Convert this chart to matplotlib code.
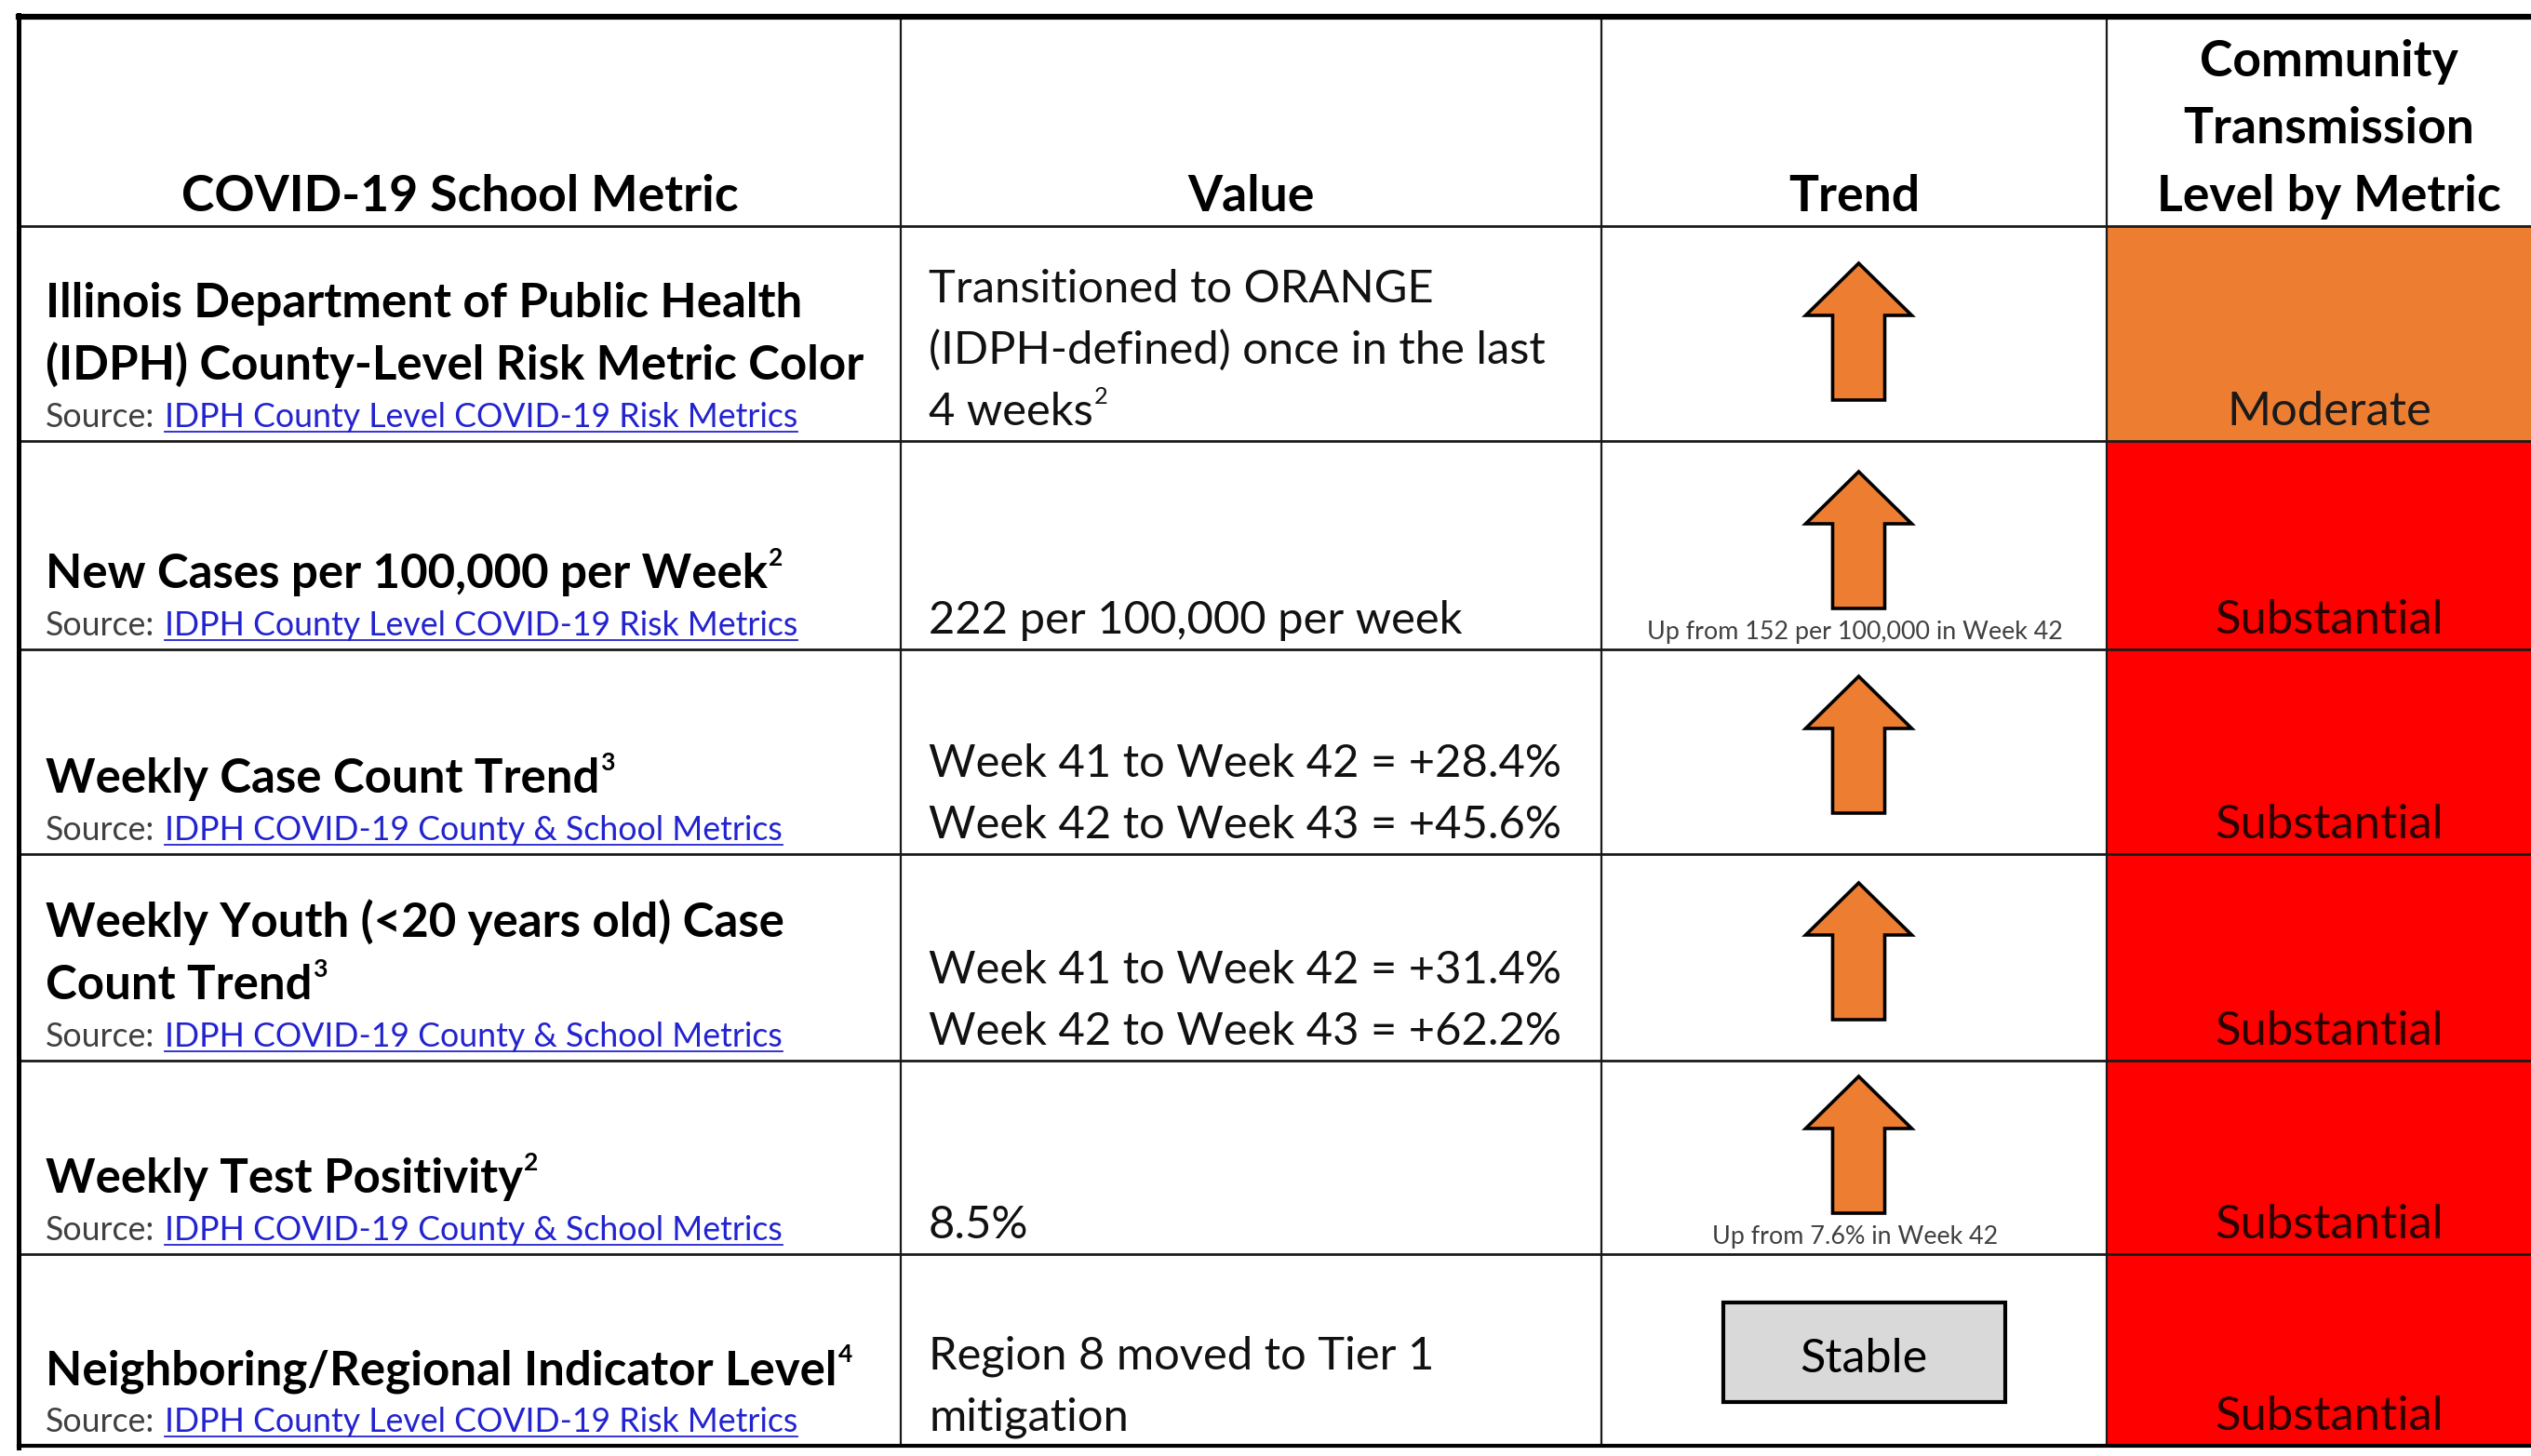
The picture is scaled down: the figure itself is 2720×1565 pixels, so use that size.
import matplotlib
matplotlib.use("Agg")
import matplotlib.pyplot as plt
from matplotlib.patches import Rectangle, Polygon

plt.rcParams['font.family'] = ['Lato', 'DejaVu Sans']

# ---- table content ----
headers = ["COVID-19 School Metric", "Value", "Trend",
           ["Community", "Transmission", "Level by Metric"]]

metric_lines = [
    ["Illinois Department of Public Health", "(IDPH) County-Level Risk Metric Color"],
    ["New Cases per 100,000 per Week"],
    ["Weekly Case Count Trend"],
    ["Weekly Youth (<20 years old) Case", "Count Trend"],
    ["Weekly Test Positivity"],
    ["Neighboring/Regional Indicator Level"],
]
metric_notes = ["", "2", "3", "3", "2", "4"]
sources = [
    "IDPH County Level COVID-19 Risk Metrics",
    "IDPH County Level COVID-19 Risk Metrics",
    "IDPH COVID-19 County & School Metrics",
    "IDPH COVID-19 County & School Metrics",
    "IDPH COVID-19 County & School Metrics",
    "IDPH County Level COVID-19 Risk Metrics",
]
value_lines = [
    ["Transitioned to ORANGE", "(IDPH-defined) once in the last", "4 weeks"],
    ["222 per 100,000 per week"],
    ["Week 41 to Week 42 = +28.4%", "Week 42 to Week 43 = +45.6%"],
    ["Week 41 to Week 42 = +31.4%", "Week 42 to Week 43 = +62.2%"],
    ["8.5%"],
    ["Region 8 moved to Tier 1", "mitigation"],
]
value_notes = ["2", "", "", "", "", ""]
trends = ["up", "up", "up", "up", "up", "stable"]
trend_notes = ["", "Up from 152 per 100,000 in Week 42", "", "",
               "Up from 7.6% in Week 42", ""]
levels = ["Moderate", "Substantial", "Substantial", "Substantial",
          "Substantial", "Substantial"]
level_colors = {"Moderate": "#ED7D31", "Substantial": "#FF0000"}

# ---- layout (pixels) ----
W, H = 2720, 1565
col_edges = [20, 968, 1721, 2264, 2742]
row_edges = [18, 243, 474, 698, 918, 1140, 1348, 1554]
ORANGE = "#ED7D31"
LINK = "#2323CF"
GREY = "#404040"

fig = plt.figure(figsize=(W / 100, H / 100), dpi=100)
ax = fig.add_axes([0, 0, 1, 1])
ax.set_xlim(0, W)
ax.set_ylim(H, 0)
ax.axis("off")
r = fig.canvas.get_renderer()


def fit(s, weight, target):
    t = ax.text(0, 0, s, fontsize=10, fontweight=weight)
    w = t.get_window_extent(r).width
    t.remove()
    return 10 * target / w


fs_head = fit("COVID-19 School Metric", "bold", 599)
fs_metric = fit("Illinois Department of Public Health", "bold", 815)
fs_src = fit("Source: IDPH County Level COVID-19 Risk Metrics", "normal", 803)
fs_val = fit("Week 42 to Week 43 = +45.6%", "normal", 682)
fs_level = fit("Substantial", "normal", 246)
fs_note = fit("Up from 152 per 100,000 in Week 42", "normal", 449)
fs_stable = fit("Stable", "normal", 137)


def right_of(t):
    bb = t.get_window_extent(r)
    return ax.transData.inverted().transform((bb.x1, bb.y0))[0]


def sup(t, s, size, weight, color="black"):
    x0, y0 = t.get_position()
    ax.text(right_of(t) + 1, y0 - size * 0.66, s, fontsize=size * 0.52,
            fontweight=weight, color=color, va="baseline", ha="left")


# level cell fills
for i, lev in enumerate(levels):
    top, bot = row_edges[i + 1], row_edges[i + 2]
    ax.add_patch(Rectangle((col_edges[3], top), col_edges[4] - col_edges[3],
                           bot - top, facecolor=level_colors[lev],
                           edgecolor="none", zorder=0))

# grid
for y in row_edges[1:-1]:
    ax.plot([col_edges[0], W], [y, y], color="#1a1a1a", lw=2.0, zorder=2)
for x in col_edges[1:4]:
    ax.plot([x, x], [row_edges[0], row_edges[-1]], color="#1a1a1a", lw=1.6, zorder=2)
ax.plot([col_edges[0], W], [row_edges[0], row_edges[0]], color="black", lw=4.5, zorder=3)
ax.plot([col_edges[0], W], [row_edges[-1], row_edges[-1]], color="black", lw=3.0, zorder=3)
ax.plot([col_edges[0], col_edges[0]], [row_edges[0] - 2, row_edges[-1] + 2],
        color="black", lw=3.6, zorder=3)

# header
hb = row_edges[1] - 16
for j, h in enumerate(headers):
    cx = (col_edges[j] + col_edges[j + 1]) / 2
    lines = h if isinstance(h, list) else [h]
    n = len(lines)
    for k, line in enumerate(lines):
        ax.text(cx, hb - (n - 1 - k) * 72.5, line, fontsize=fs_head,
                fontweight="bold", ha="center", va="baseline")

# rows
for i in range(len(metric_lines)):
    top, bot = row_edges[i + 1], row_edges[i + 2]

    # metric + source
    mx = col_edges[0] + 29
    src_y = bot - 15
    last = src_y - 51
    n = len(metric_lines[i])
    t = None
    for k, line in enumerate(metric_lines[i]):
        t = ax.text(mx, last - (n - 1 - k) * 67, line, fontsize=fs_metric,
                    fontweight="bold", ha="left", va="baseline")
    if metric_notes[i]:
        sup(t, metric_notes[i], fs_metric, "bold")
    ts = ax.text(mx, src_y, "Source:", fontsize=fs_src, color=GREY,
                 ha="left", va="baseline")
    lx = right_of(ts) + fs_src * 0.42
    tl = ax.text(lx, src_y, sources[i], fontsize=fs_src, color=LINK,
                 ha="left", va="baseline")
    ax.plot([lx, right_of(tl)], [src_y + 5, src_y + 5], color=LINK, lw=1.3)

    # value
    vx = col_edges[1] + 30
    last = bot - 17
    n = len(value_lines[i])
    for k, line in enumerate(value_lines[i]):
        t = ax.text(vx, last - (n - 1 - k) * 66, line, fontsize=fs_val,
                    ha="left", va="baseline", color="#111111")
    if value_notes[i]:
        sup(t, value_notes[i], fs_val, "normal", "#111111")

    # trend
    cx = (col_edges[2] + col_edges[3]) / 2 + 5
    if trends[i] == "up":
        b = bot - 44
        tp = b - 147
        hb2 = tp + 56
        pts = [(cx, tp), (cx + 57, hb2), (cx + 28, hb2), (cx + 28, b),
               (cx - 28, b), (cx - 28, hb2), (cx - 57, hb2)]
        ax.add_patch(Polygon(pts, closed=True, facecolor=ORANGE,
                             edgecolor="black", lw=2.6, joinstyle="miter", zorder=4))
    else:
        ax.add_patch(Rectangle((cx - 146, bot - 154), 303, 107, facecolor="#D9D9D9",
                               edgecolor="black", lw=3.0, zorder=4))
        ax.text(cx + 5, bot - 79, "Stable", fontsize=fs_stable, ha="center",
                va="baseline", zorder=5)
    if trend_notes[i]:
        ax.text(cx - 4, bot - 11, trend_notes[i], fontsize=fs_note, color=GREY,
                ha="center", va="baseline")

    # level
    lc = (col_edges[3] + col_edges[4]) / 2
    ax.text(lc, bot - 17, levels[i], fontsize=fs_level,
            color="#1a1a1a" if levels[i] == "Moderate" else "#2a0000",
            ha="center", va="baseline")

fig.savefig("out.png", dpi=100)
